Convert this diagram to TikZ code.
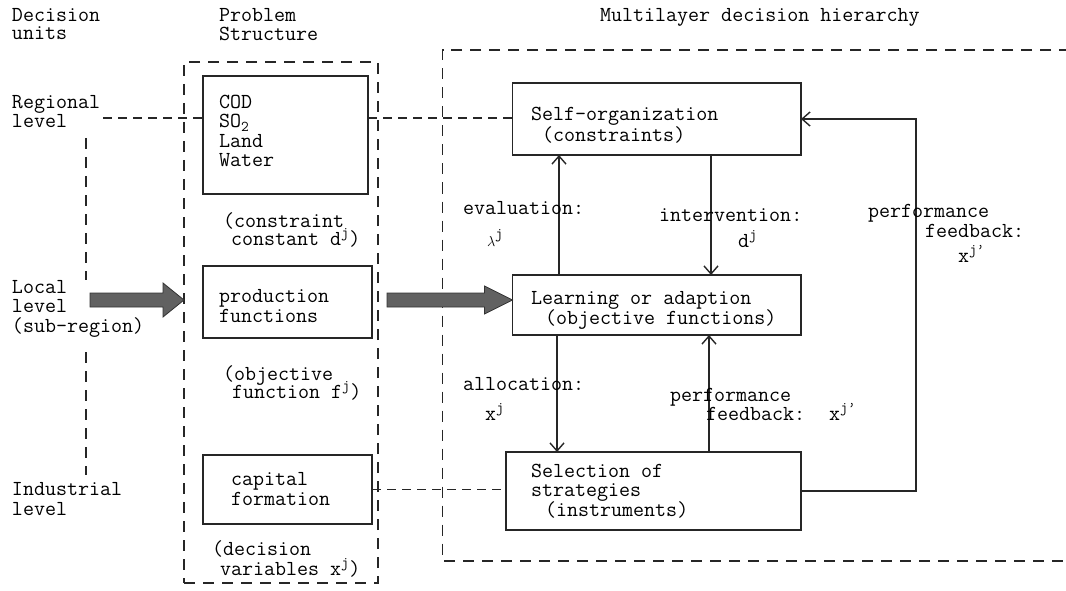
\documentclass[tikz,border=0pt]{standalone}
\usepackage{fontspec}
\usetikzlibrary{arrows.meta,calc}
\setlength{\lineskiplimit}{-50pt}
\newcommand{\twfont}{\ttfamily\fontsize{21.4}{19.5}\selectfont}
\begin{document}
\begin{tikzpicture}[x=1pt,y=-1pt,
  every node/.style={inner sep=0pt, outer sep=0pt},
  % multi-line labels are placed by the baseline of their last line
  txt/.style={anchor=base west, align=left, text=black, font=\twfont},
  box/.style={draw=black!85, line width=1.6pt, anchor=north west},
  frame/.style={draw=black!85, line width=1.5pt, dash pattern=on 11pt off 8pt},
  dline/.style={draw=black!85, line width=1.5pt, dash pattern=on 9pt off 6pt},
  link/.style={draw=black!85, line width=1.4pt},
  arr/.style={link, -{Straight Barb[length=8pt,width=14pt,line width=1.4pt]}},
  fat/.style={fill=black!62, draw=black!80, line width=0.8pt, line join=miter}]
\useasboundingbox (0,0) rectangle (1066,591);

% column headings
\node[txt] (hdu) at (12,40) {Decision\\[-1.5pt]units};
\node[txt] (hps) at (219,41) {Problem\\Structure};
\node[txt] (hml) at (600,22) {Multilayer decision hierarchy};

% decision units
\node[txt] (reg) at (12,128) {Regional\\level};
\node[txt] (loc) at (12,332) {Local\\level\\(sub-region)};
\node[txt] (ind) at (12,515) {Industrial\\level};
\draw[frame] (86,138) -- (86,280);
\draw[frame] (86,352) -- (86,475);

% problem structure
\node[frame, anchor=north west, minimum width=194pt, minimum height=521pt] (ps) at (184,62) {};
\node[box, minimum width=165pt, minimum height=118pt] (cod) at (203,76) {};
\node[txt] (codt) at (219,167) {COD\\SO\textsubscript{2}\\Land\\Water};
\node[txt] (cc) at (223,245) {(constraint\\[-1.5pt]\hspace*{8pt}constant d\textsuperscript{j})};

\node[box, minimum width=169pt, minimum height=72pt] (prod) at (203,266) {};
\node[txt] (prt) at (219,322) {production\\functions};
\node[txt] (of) at (223,398) {(objective\\[-1.5pt]\hspace*{9pt}function f\textsuperscript{j})};

\node[box, minimum width=169pt, minimum height=69pt] (cap) at (203,455) {};
\node[txt] (cpt) at (231,505) {capital\\formation};
\node[txt] (dv) at (212,575) {(decision\\\hspace*{8pt}variables x\textsuperscript{j})};

% multilayer hierarchy
\draw[frame] (1070,50) -- (442.5,50) -- (442.5,561) -- (1070,561);
\node[box, minimum width=288.5pt, minimum height=72pt] (self) at (512.5,83) {};
\node[txt] (sft) at (531,142) {Self-organization\\[1.5pt]\hspace*{11pt}(constraints)};
\node[box, minimum width=288.5pt, minimum height=60pt] (learn) at (512.5,275) {};
\node[txt] (lnt) at (531,324) {Learning or adaption\\\hspace*{14pt}(objective functions)};
\node[box, minimum width=295pt, minimum height=78pt] (sel) at (506,452) {};
\node[txt] (slt) at (531,516) {Selection of\\strategies\\\hspace*{14pt}(instruments)};

% level links
\coordinate (rg) at (103,118);
\draw[dline] (rg) -- (rg -| cod.west);
\draw[dline] (rg -| cod.east) -- (rg -| self.west);
\draw[dline] (cap.east) -- (cap.east -| sel.west);

% broad flow arrows
\coordinate (a1s) at (90,300);
\coordinate (a1t) at (ps.west |- a1s);
\filldraw[fat] ($(a1s)+(0,-7)$) -- ($(a1t)+(-21,-7)$) -- ($(a1t)+(-21,-17)$) -- (a1t)
  -- ($(a1t)+(-21,17)$) -- ($(a1t)+(-21,7)$) -- ($(a1s)+(0,7)$) -- cycle;
\coordinate (a2s) at (387,300);
\coordinate (a2t) at (learn.west |- a2s);
\filldraw[fat] ($(a2s)+(0,-7)$) -- ($(a2t)+(-28,-7)$) -- ($(a2t)+(-28,-14)$) -- (a2t)
  -- ($(a2t)+(-28,14)$) -- ($(a2t)+(-28,7)$) -- ($(a2s)+(0,7)$) -- cycle;

% vertical information flows
\coordinate (evx) at (559,0);
\coordinate (inx) at (711,0);
\coordinate (alx) at (557,0);
\coordinate (pfx) at (709,0);
\coordinate (fbx) at (916,300);
\draw[arr] (evx |- learn.north) -- (evx |- self.south);
\draw[arr] (inx |- self.south) -- (inx |- learn.north);
\draw[arr] (alx |- learn.south) -- (alx |- sel.north);
\draw[arr] (pfx |- sel.north) -- (pfx |- learn.south);
\draw[arr] (sel.east) -| (fbx) |- (self.east);

% flow labels
\node[txt] (ev) at (463,246) {evaluation:\\[12.5pt]\hspace*{24pt}$\scriptstyle\lambda$\textsuperscript{j}};
\node[txt] (iv) at (659,247) {intervention:\\[6.5pt]\hspace*{79pt}d\textsuperscript{j}};
\node[txt] (pf) at (868,262) {performance\\[0.5pt]\hspace*{57pt}feedback:\\[5.5pt]\hspace*{90pt}x\textsuperscript{j’}};
\node[txt] (al) at (463,420) {allocation:\\[10.5pt]\hspace*{22pt}x\textsuperscript{j}};
\node[txt] (pi) at (670,420) {performance\\[-0.5pt]\hspace*{36pt}feedback:\hspace*{24pt}x\textsuperscript{j’}};
\end{tikzpicture}
\end{document}
